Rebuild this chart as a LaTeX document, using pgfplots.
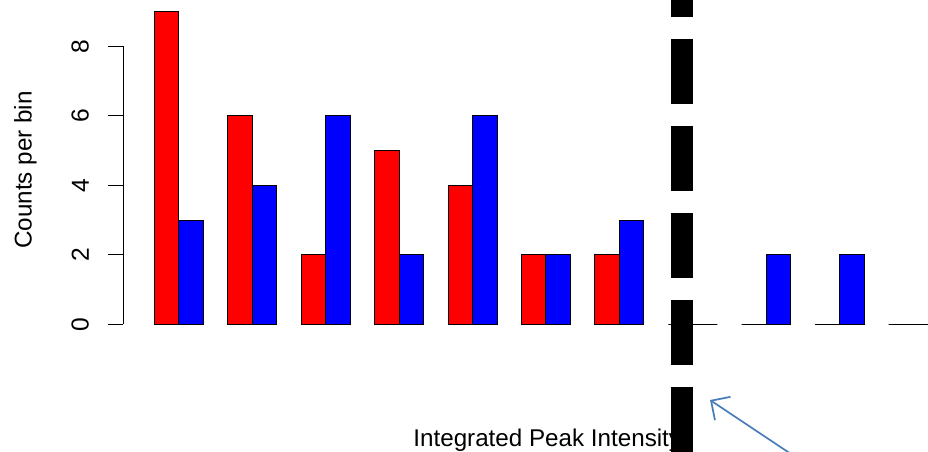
\documentclass[border=0pt]{standalone}
\usepackage{fontspec}
\setmainfont{Liberation Sans}
\usepackage{pgfplots}
\pgfplotsset{compat=1.18}
\usetikzlibrary{arrows.meta}
\definecolor{rred}{RGB}{255,0,0}
\definecolor{rblue}{RGB}{0,0,255}
\definecolor{pptblue}{RGB}{74,126,187}
\begin{document}
\begin{tikzpicture}
\path[use as bounding box] (0,0) rectangle (464pt,225.5pt);
\begin{axis}[
  at={(61.59pt,57.0pt)}, anchor=south west,
  scale only axis, width=422.8pt, height=169.0pt,
  xmin=-0.28, xmax=34.28, ymin=-0.36, ymax=9.36,
  axis line style={draw=none},
  xtick=\empty,
  ytick={0,2,4,6,8},
  tick align=outside, major tick length=7.5pt,
  tick style={black, line width=0.5pt},
  ytick pos=left,
  /pgf/number format/assume math mode=true,
  yticklabel style={rotate=90, anchor=south, inner sep=0pt, font=\fontsize{12.3}{14}\selectfont},
  yticklabel shift=9.5pt,
  clip=false,
  ybar, bar width=1, bar shift=0,
]
\addplot[fill=rred, draw=black, line width=0.5pt] coordinates {
(1.5,9) (4.5,6) (7.5,2) (10.5,5) (13.5,4) (16.5,2) (19.5,2) (22.5,0) (25.5,0) (28.5,0) (31.5,0)};
\addplot[fill=rblue, draw=black, line width=0.5pt] coordinates {
(2.5,3) (5.5,4) (8.5,6) (11.5,2) (14.5,6) (17.5,2) (20.5,3) (23.5,0) (26.5,2) (29.5,2) (32.5,0)};
\draw[black, line width=0.5pt] (axis cs:-0.28,0) -- (axis cs:-0.28,8);
\end{axis}
\node[rotate=90, anchor=base, inner sep=0pt, font=\fontsize{12.1}{15}\selectfont] at (15.85pt,140.5pt) {Counts per bin};
\node[anchor=base west, inner sep=0pt, font=\fontsize{12.1}{15}\selectfont] at (206.5pt,2.5pt) {Integrated Peak Intensity};
\draw[black, line width=11pt, dash pattern=on 32.5pt off 11pt] (341pt,249.5pt) -- (341pt,-30pt);
\draw[pptblue, line width=0.9pt, -{Straight Barb[length=7pt, width=14pt, line width=0.9pt]}] (400pt,-4.5pt) -- (355pt,25.5pt);
\end{tikzpicture}
\end{document}
